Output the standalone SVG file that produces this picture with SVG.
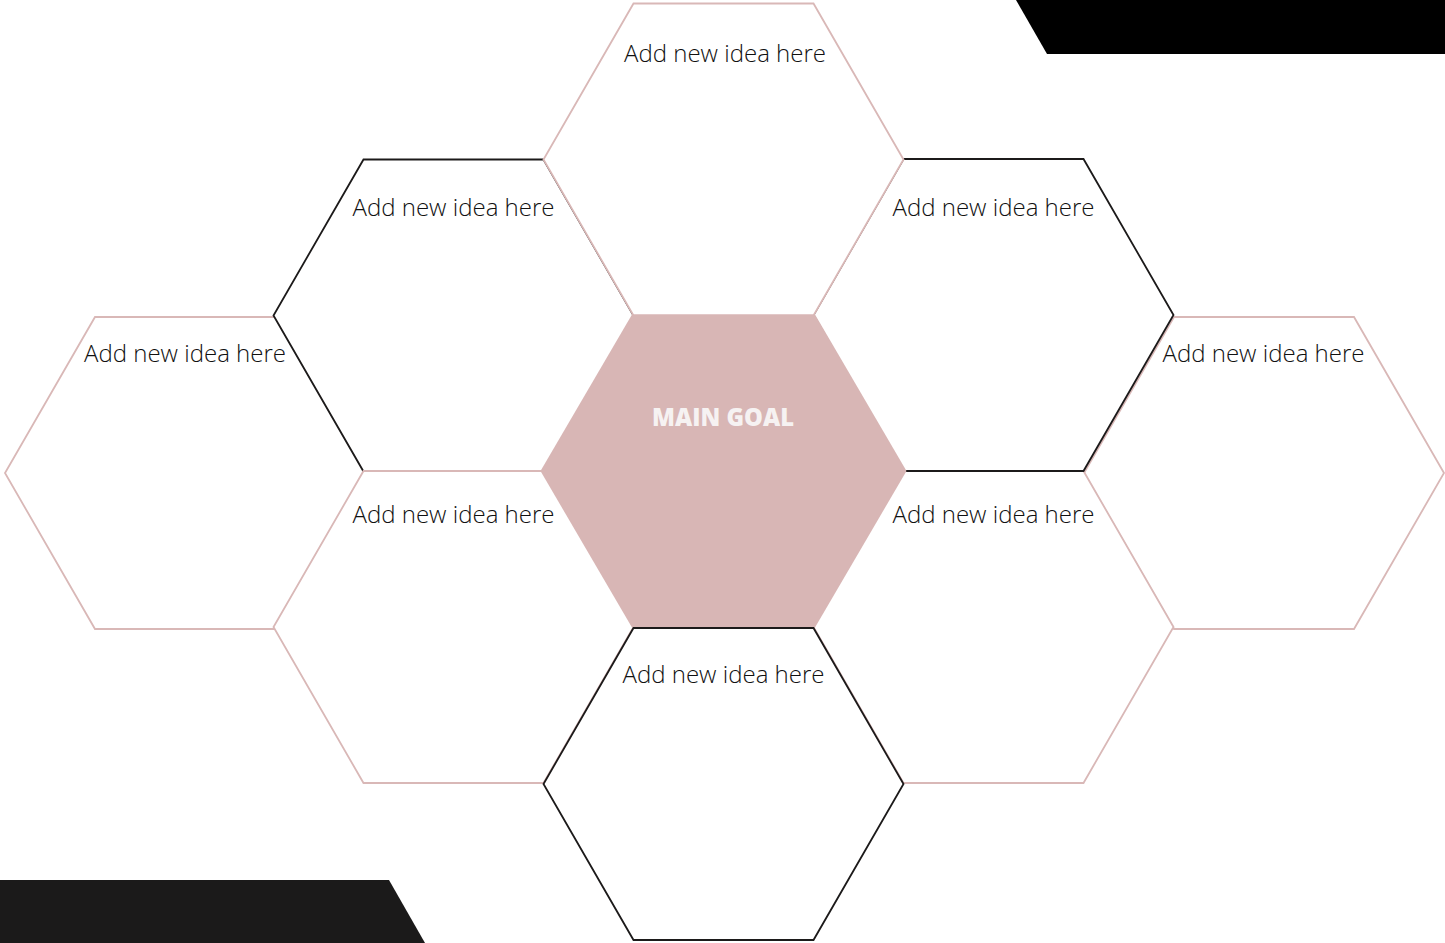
<svg xmlns="http://www.w3.org/2000/svg" width="1445" height="943" viewBox="0 0 1445 943">
<style>
.hp{fill:#fff;stroke:#d9b8b7;stroke-width:1.8;stroke-linejoin:miter}
.hb{fill:#fff;stroke:#1c1a1a;stroke-width:1.8;stroke-linejoin:miter}
.lbl{font-family:"Open Sans","Noto Sans","Liberation Sans",sans-serif;font-size:24px;font-weight:300;fill:#111;text-anchor:middle}
.main{font-family:"Open Sans","Liberation Sans",sans-serif;font-size:25px;font-weight:800;fill:#f6f2f2;text-anchor:middle}
</style>
<defs>
<polygon id="hex" points="180,0 90,-156 -90,-156 -180,0 -90,156 90,156"/>
</defs>
<rect width="1445" height="943" fill="#fff"/>
<g id="decor">
<polygon points="1016,0 1445,0 1445,54 1047,54" fill="#000"/>
<polygon points="0,880 389,880 425,943 0,943" fill="#1b1a1a"/>
</g>
<g id="connectors"></g>
<g id="n-left" transform="translate(185,473)"><use href="#hex" class="hp"/></g>
<g id="n-right" transform="translate(1264,473)"><use href="#hex" class="hp"/></g>
<g id="n-lowerright" transform="translate(993.5,627)"><use href="#hex" class="hp"/></g>
<g id="n-upperleft" transform="translate(453.5,315.5)"><use href="#hex" class="hb"/></g>
<g id="n-upperright" transform="translate(993.5,315)"><use href="#hex" class="hb"/></g>
<g id="n-lowerleft" transform="translate(453.5,627)"><use href="#hex" class="hp"/></g>
<g id="n-top" transform="translate(723.5,159.5)"><use href="#hex" class="hp" stroke-width="2.2"/></g>
<g id="n-center" transform="translate(723.5,471)"><polygon points="183,0 91.5,-156.5 -91.5,-156.5 -183,0 -91.5,156.5 91.5,156.5" fill="#d8b6b5"/></g>
<g id="n-bottom" transform="translate(723.5,784)"><use href="#hex" class="hb"/></g>
<g id="labels">
<text class="lbl" x="725" y="62" textLength="202" lengthAdjust="spacingAndGlyphs">Add new idea here</text>
<text class="lbl" x="453.5" y="216" textLength="202" lengthAdjust="spacingAndGlyphs">Add new idea here</text>
<text class="lbl" x="993.5" y="216" textLength="202" lengthAdjust="spacingAndGlyphs">Add new idea here</text>
<text class="lbl" x="185" y="362" textLength="202" lengthAdjust="spacingAndGlyphs">Add new idea here</text>
<text class="lbl" x="1263.5" y="362" textLength="202" lengthAdjust="spacingAndGlyphs">Add new idea here</text>
<text class="lbl" x="453.5" y="523" textLength="202" lengthAdjust="spacingAndGlyphs">Add new idea here</text>
<text class="lbl" x="993.5" y="523" textLength="202" lengthAdjust="spacingAndGlyphs">Add new idea here</text>
<text class="lbl" x="723.5" y="683" textLength="202" lengthAdjust="spacingAndGlyphs">Add new idea here</text>
<text class="main" x="723" y="426" textLength="142" lengthAdjust="spacingAndGlyphs">MAIN GOAL</text>
</g>
</svg>
